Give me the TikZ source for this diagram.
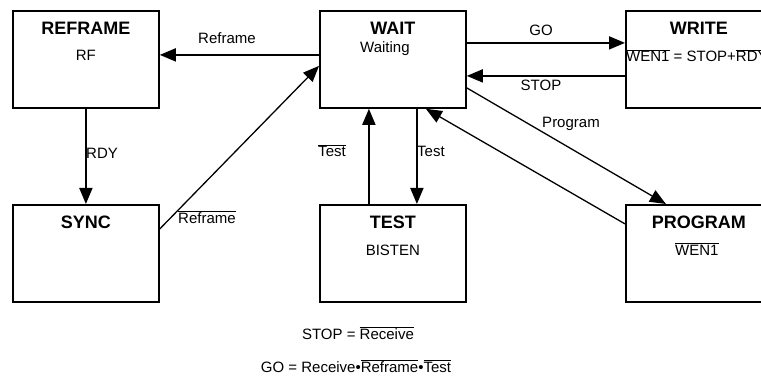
\documentclass[tikz,border=0pt]{standalone}
\usepackage{fontspec}
\setmainfont{Liberation Sans}
\usetikzlibrary{arrows.meta,positioning,calc}
\newcommand{\ovl}[1]{$\overline{\mbox{#1}}$}

\begin{document}
\begin{tikzpicture}[x=1pt,y=-1pt,
  state/.style={draw,line width=1.8pt,minimum width=146pt,minimum height=97pt,inner sep=0pt,anchor=north west},
  ttl/.style={font=\fontsize{18}{21}\selectfont\bfseries,inner sep=0pt,anchor=base},
  sub/.style={font=\fontsize{15}{18}\selectfont,inner sep=0pt,anchor=base},
  lbl/.style={font=\fontsize{15}{18}\selectfont,inner sep=0pt,anchor=base},
  arr/.style={line width=1.8pt,-{Triangle[length=16pt,width=13pt]}},
  darr/.style={line width=1.3pt,-{Triangle[length=16pt,width=13pt]}}]
\useasboundingbox (0,0) rectangle (761,377);

%states
\node[state] (rf) at (12,10) {};
\node[state] (wt) at (319,10) {};
\node[state] (wr) at (625,10) {};
\node[state] (sy) at (12,204) {};
\node[state] (ts) at (319,204) {};
\node[state] (pg) at (625,204) {};

%titles
\node[ttl] (rft) at ($(rf.north)+(0,24.5)$) {REFRAME};
\node[ttl] (wtt) at ($(wt.north)+(0,24.5)$) {WAIT};
\node[ttl] (wrt) at ($(wr.north)+(0,24.5)$) {WRITE};
\node[ttl] (syt) at ($(sy.north)+(0,24.5)$) {SYNC};
\node[ttl] (tst) at ($(ts.north)+(0,24.5)$) {TEST};
\node[ttl] (pgt) at ($(pg.north)+(0,24.5)$) {PROGRAM};

%outputs
\node[sub] (rfs) at ($(rf.north)+(0,51)$) {RF};
\node[sub] (wts) at ($(wt.north)+(-8,43)$) {Waiting};
\node[sub,anchor=base west] (wrs) at ($(wr.north west)+(1,52)$) {\ovl{WEN1} = STOP+\ovl{RDY}};
\node[sub] (tss) at ($(ts.north)+(0,51)$) {BISTEN};
\node[sub] (pgs) at ($(pg.north)+(-2,51)$) {\ovl{WEN1}};

%transitions
\draw[arr] ([yshift=4.5pt]wt.west) -- ([yshift=4.5pt]rf.east);
\draw[arr] (rf.south) -- (sy.north);
\draw[darr] ([yshift=24.5pt]sy.east) -- ([yshift=-6.5pt]wt.west);
\draw[arr] ([yshift=16.5pt]wt.east) -- ([yshift=16.5pt]wr.west);
\draw[arr] ([yshift=-16.5pt]wr.west) -- ([yshift=-16.5pt]wt.east);
\draw[darr] ([yshift=-28.5pt]wt.east) -- ([xshift=-33pt]pg.north);
\draw[darr] ([yshift=29.5pt]pg.west) -- ([xshift=33pt]wt.south);
\draw[arr] ([xshift=-24pt]ts.north) -- ([xshift=-24pt]wt.south);
\draw[arr] ([xshift=24pt]wt.south) -- ([xshift=24pt]ts.north);

%labels
\node[lbl] (l1) at (227,44) {Reframe};
\node[lbl,anchor=base west] (l2) at (86,159) {RDY};
\node[lbl,anchor=base west] (l3) at (178,223) {\ovl{Reframe}};
\node[lbl] (l4) at (541,36) {GO};
\node[lbl] (l5) at (541,91) {STOP};
\node[lbl] (l6) at (571,128) {Program};
\node[lbl] (l7) at (332,157) {\ovl{Test}};
\node[lbl,anchor=base west] (l8) at (417,157) {Test};

%equations
\node[lbl] (e1) at (358,339) {STOP = \ovl{Receive}};
\node[lbl] (e2) at (356,372) {GO = Receive\textbullet\ovl{Reframe}\textbullet\ovl{Test}};
\end{tikzpicture}
\end{document}
